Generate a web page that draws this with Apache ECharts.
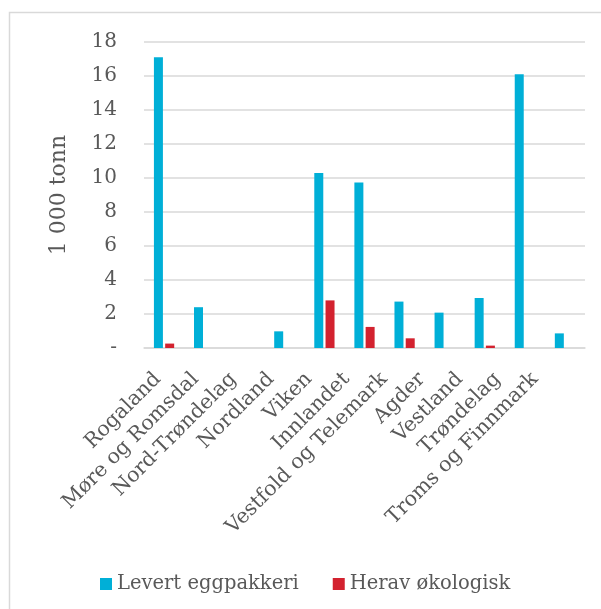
<!DOCTYPE html>
<html>
<head>
<meta charset="utf-8">
<script src="https://cdn.jsdelivr.net/npm/echarts@6/dist/echarts.min.js"></script>
<style>
  html, body { margin: 0; padding: 0; background: #fff; }
  #chart { width: 601px; height: 609px; }
</style>
</head>
<body>
<div id="chart"></div>
<script>
const regions = [
  "Rogaland", "Møre og Romsdal", "Nord-Trøndelag", "Nordland", "Viken",
  "Innlandet", "Vestfold og Telemark", "Agder", "Vestland", "Trøndelag",
  "Troms og Finnmark"
];
const levert = [17.1, 2.4, 0, 0.98, 10.3, 9.73, 2.73, 2.08, 2.94, 16.1, 0.86];
const okologisk = [0.26, 0, 0, 0, 2.8, 1.24, 0.57, 0, 0.14, 0, 0];
const seriesNames = ["Levert eggpakkeri", "Herav økologisk"];

const font = "DejaVu Serif";
const textColor = "#595959";

const chart = echarts.init(document.getElementById("chart"));
chart.setOption({
  animation: false,
  backgroundColor: "#fff",
  textStyle: { fontFamily: font, color: textColor },
  graphic: [
    {
      type: "rect",
      shape: { x: 9.5, y: 12.5, width: 700, height: 700 },
      style: { fill: "none", stroke: "#d9d9d9", lineWidth: 1.5 },
      silent: true
    }
  ],
  // second grid only carries the category labels (they sit a bit tighter than the bars)
  grid: [
    { left: 144, right: 16, top: 42, bottom: 261 },
    { left: 139, right: 47, top: 42, bottom: 261 }
  ],
  legend: {
    top: 569,
    left: 95,
    itemWidth: 12,
    itemHeight: 12,
    itemGap: 34,
    icon: "rect",
    textStyle: { fontFamily: font, fontSize: 19.5, color: textColor },
    data: seriesNames
  },
  xAxis: [
    {
      type: "category",
      data: regions,
      axisLine: { lineStyle: { color: "#d9d9d9", width: 1.5 } },
      axisTick: { show: false },
      axisLabel: { show: false }
    },
    {
      type: "category",
      gridIndex: 1,
      data: regions,
      axisLine: { show: false },
      axisTick: { show: false },
      axisLabel: {
        rotate: 45,
        interval: 0,
        margin: 28,
        fontFamily: font,
        fontSize: 20.5,
        color: textColor
      }
    }
  ],
  yAxis: [
    {
      type: "value",
      min: 0,
      max: 18,
      interval: 2,
      name: "1 000 tonn",
      nameLocation: "middle",
      nameGap: 74,
      nameTextStyle: { fontFamily: font, fontSize: 22, color: textColor },
      axisLine: { show: false },
      axisTick: { show: false },
      splitLine: { lineStyle: { color: "#d9d9d9", width: 1.5 } },
      axisLabel: {
        margin: 27,
        fontFamily: font,
        fontSize: 20,
        color: textColor,
        formatter: (v) => (v === 0 ? "-" : v)
      }
    },
    { type: "value", gridIndex: 1, min: 0, max: 18, show: false }
  ],
  series: [
    {
      name: seriesNames[0],
      type: "bar",
      data: levert,
      barWidth: 9,
      barGap: "25%",
      itemStyle: { color: "#00afd7" }
    },
    {
      name: seriesNames[1],
      type: "bar",
      data: okologisk,
      barWidth: 9,
      itemStyle: { color: "#d3222f" }
    }
  ]
});
</script>
</body>
</html>
